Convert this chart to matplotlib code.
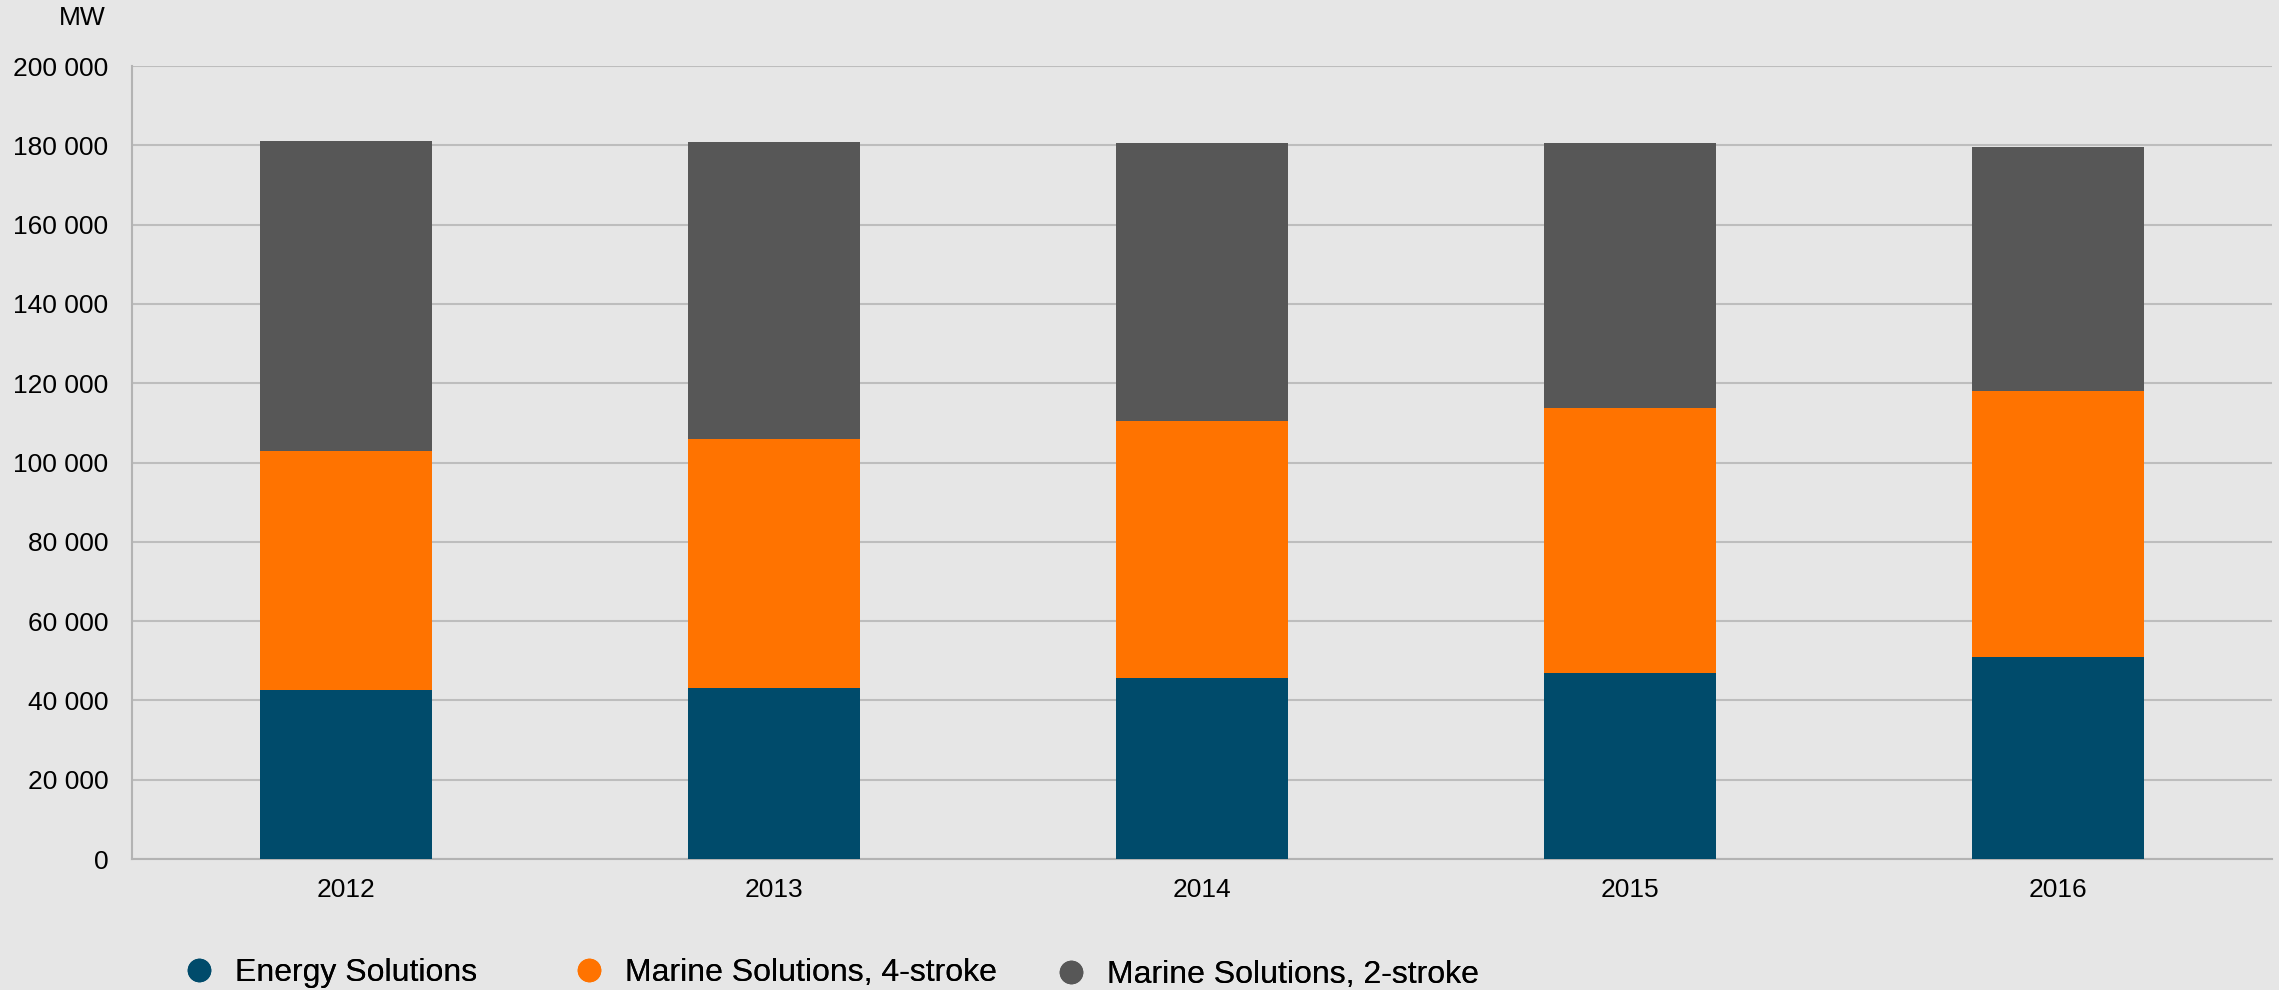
import numpy as np
import matplotlib
matplotlib.use("Agg")
import matplotlib.pyplot as plt
from matplotlib.lines import Line2D
from matplotlib.ticker import FuncFormatter

plt.rcParams['font.family'] = ['Liberation Sans', 'DejaVu Sans']

years = ["2012", "2013", "2014", "2015", "2016"]
energy = [42700, 43200, 45700, 47000, 50900]
marine4 = [60300, 62700, 64700, 66700, 67100]
marine2 = [78100, 74900, 70200, 66900, 61600]
names = ["Energy Solutions", "Marine Solutions, 4-stroke", "Marine Solutions, 2-stroke"]
colors = ["#004B6B", "#FF7300", "#575757"]

bg = "#E6E6E6"
fig = plt.figure(figsize=(22.79, 9.9), dpi=100, facecolor=bg)
ax = fig.add_axes([0.0579, 0.1323, 0.939, 0.801])
ax.set_facecolor(bg)

x = np.arange(len(years))
bottom = np.zeros(len(years))
for vals, c in zip([energy, marine4, marine2], colors):
    ax.bar(x, vals, width=0.40, bottom=bottom, color=c, zorder=3)
    bottom += np.array(vals)

ax.set_xlim(-0.5, len(years) - 0.5)
ax.set_ylim(0, 200000)
ax.set_yticks(np.arange(0, 200001, 20000))
ax.yaxis.set_major_formatter(FuncFormatter(lambda v, p: f"{int(v):,}".replace(",", " ")))
ax.set_xticks(x)
ax.set_xticklabels(years)
ax.grid(axis="y", color="#BDBDBD", linewidth=1.5, zorder=0)
ax.tick_params(axis="y", length=0, pad=17, labelsize=19)
ax.tick_params(axis="x", length=0, pad=14, labelsize=19)
for s in ["top", "right"]:
    ax.spines[s].set_visible(False)
for s in ["left", "bottom"]:
    ax.spines[s].set_color("#B3B3B3")
    ax.spines[s].set_linewidth(1.5)

fig.text(106 / 2279, 1 - 18 / 990, "MW", ha="right", va="center", fontsize=19)

# legend entries placed one by one (uneven spacing in the original)
marker_x = [199, 589, 1071]
marker_y = [973, 973, 975]
for name, c, mx, my in zip(names, colors, marker_x, marker_y):
    h = Line2D([], [], marker="o", linestyle="none", markersize=16, color=c)
    leg = fig.legend([h], [name], loc="center left",
                     bbox_to_anchor=((mx - 12.8) / 2279, 1 - my / 990),
                     frameon=False, fontsize=23, handlelength=0.8, handletextpad=0.72,
                     borderaxespad=0, borderpad=0)
    fig.add_artist(leg)

fig.savefig("out.png", dpi=100, facecolor=bg)
